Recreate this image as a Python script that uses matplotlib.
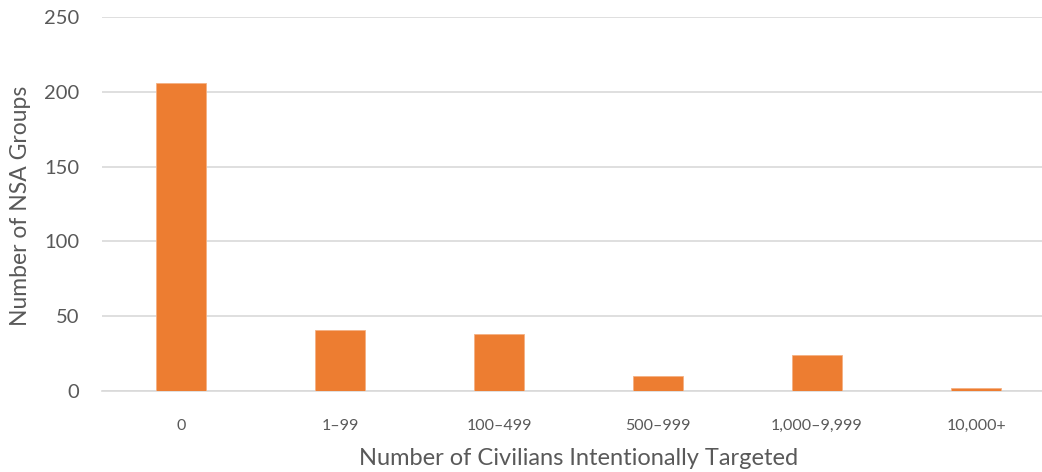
import matplotlib
matplotlib.use("Agg")
import matplotlib.pyplot as plt

categories = ["0", "1\u201399", "100\u2013499", "500\u2013999", "1,000\u20139,999", "10,000+"]
counts = [206, 41, 38, 10, 24, 2]
y_ticks = [0, 50, 100, 150, 200, 250]

plt.rcParams['font.family'] = ['Lato', 'DejaVu Sans']
text_color = '#595959'

fig = plt.figure(figsize=(10.42, 4.72), dpi=100)
ax = fig.add_axes([101.5 / 1042, 1 - 391 / 472, 954 / 1042, 374 / 472])

x = range(len(categories))
ax.bar(x, counts, width=0.31, color='#ED7D31', edgecolor='#F4B183', linewidth=0.6, zorder=3)

ax.set_xlim(-0.5, len(categories) - 0.5)
ax.set_ylim(0, 250)
ax.set_yticks(y_ticks)
ax.grid(axis='y', color='#D9D9D9', linewidth=1.2, zorder=0)
ax.set_xticks(list(x))
ax.set_xticklabels(categories)

for side in ['top', 'right', 'left']:
    ax.spines[side].set_visible(False)
ax.spines['bottom'].set_color('#D9D9D9')
ax.spines['bottom'].set_linewidth(1.2)

ax.tick_params(axis='y', length=0, pad=16, labelsize=14.5, labelcolor=text_color)
ax.tick_params(axis='x', length=0, pad=20, labelsize=11.5, labelcolor=text_color)

ax.set_xlabel("Number of Civilians Intentionally Targeted", fontsize=17, color=text_color, labelpad=11)
ax.set_ylabel("Number of NSA Groups", fontsize=16.5, color=text_color)
# put the y label at the far left, as in the reference
ax.yaxis.set_label_coords(-0.074, 0.495)

fig.savefig("out.png", dpi=100)
